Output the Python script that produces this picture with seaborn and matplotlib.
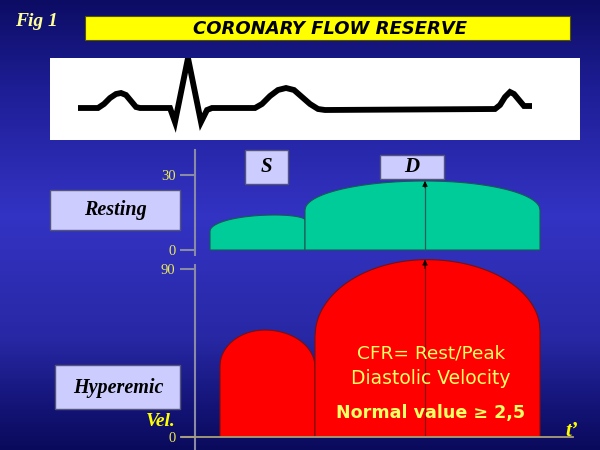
import numpy as np
import matplotlib
matplotlib.use("Agg")
import matplotlib.pyplot as plt
from matplotlib.patches import Rectangle
import seaborn as sns
import pandas as pd

# ---------------- data ----------------
# ECG trace (time units, amplitude units relative to baseline)
ecg_t = [28, 48, 54, 60, 66, 71, 76, 81, 86, 90, 120, 125, 138, 151, 157, 162,
         205, 212, 220, 228, 236, 244, 252, 260, 268, 275, 445, 450, 455, 460,
         464, 469, 474, 482]
ecg_v = [0, 0, 4, 10, 14, 15, 13, 7, 1, 0, 0, -14, 50, -14, -2, 0,
         0, 4, 12, 18, 20, 18, 11, 4, -1, -2, -1, 3, 11, 16, 14, 8, 2, 2]

# velocity waves: [S, D]  (onset, end, time of peak, left shoulder, right shoulder, peak)
rest_onset = [30, 220]
rest_end = [220, 690]
rest_tpeak = [160, 460]
rest_shoulder_l = [7.5, 16]
rest_shoulder_r = [12, 16]
rest_peak = [14, 27.6]

hyp_onset = [50, 240]
hyp_end = [240, 690]
hyp_tpeak = [140, 464]
hyp_shoulder_l = [38, 54]
hyp_shoulder_r = [37.5, 57]
hyp_peak = [57.3, 95]

peak_diastolic_time = 460
rest_ticks = [0, 30]
hyp_ticks = [0, 90]

# ---------------- helpers ----------------
W, H = 600, 450
sns.set_theme(style="white")
plt.rcParams["font.family"] = ["DejaVu Sans"]
SERIF = ["Liberation Serif", "DejaVu Serif"]

fig = plt.figure(figsize=(6, 4.5), dpi=100)


def px_axes(x0, y0, x1, y1):
    return fig.add_axes([x0 / W, 1 - y1 / H, (x1 - x0) / W, (y1 - y0) / H])


def fbox(x0, y0, x1, y1, fc, ec, lw=1.0):
    fig.add_artist(Rectangle((x0 / W, 1 - y1 / H), (x1 - x0) / W, (y1 - y0) / H,
                             transform=fig.transFigure, facecolor=fc, edgecolor=ec, lw=lw))


def ftext(x, y, s, **kw):
    fig.text(x / W, 1 - y / H, s, **kw)


def dome(t0, t1, tp, hl, hr, pk, n=300):
    t = np.linspace(t0, t1, n)
    left = hl + (pk - hl) * np.sqrt(np.clip(1 - ((tp - t) / (tp - t0)) ** 2, 0, 1))
    right = hr + (pk - hr) * np.sqrt(np.clip(1 - ((t - tp) / (t1 - tp)) ** 2, 0, 1))
    y = np.where(t <= tp, left, right)
    return np.concatenate([[t0], t, [t1]]), np.concatenate([[0], y, [0]])


# ---------------- background gradient ----------------
ax_bg = fig.add_axes([0, 0, 1, 1])
pos = np.array([0.0, 0.2, 0.48, 0.75, 0.9, 1.0])
cols = np.array([[12, 12, 100], [30, 30, 150], [51, 51, 196], [40, 40, 165],
                 [20, 20, 120], [10, 10, 92]]) / 255.0
yy = np.linspace(0, 1, 450)
grad = np.stack([np.interp(yy, pos, cols[:, i]) for i in range(3)], axis=-1)
ax_bg.imshow(grad[:, None, :], aspect="auto", extent=[0, 1, 1, 0])
ax_bg.set_xlim(0, 1)
ax_bg.set_ylim(1, 0)
ax_bg.axis("off")

# ---------------- title ----------------
fbox(85, 16, 570, 40, "#ffff00", "#555500", 0.8)
ftext(330, 28.5, "CORONARY FLOW RESERVE", ha="center", va="center", fontsize=13,
      fontweight="bold", fontstyle="italic", color="black")
ftext(15, 22, "Fig 1", ha="left", va="center", fontsize=14, fontweight="bold",
      fontstyle="italic", color="#ffff99", family=SERIF)

# ---------------- ECG ----------------
ax_e = px_axes(50, 58, 580, 140)
ax_e.set_facecolor("white")
ecg_df = pd.DataFrame({"t": ecg_t, "v": ecg_v})
sns.lineplot(data=ecg_df, x="t", y="v", ax=ax_e, color="black", lw=4.2, sort=False,
             solid_joinstyle="miter", solid_capstyle="butt")
ax_e.set_xlim(0, 530)
ax_e.set_ylim(-32, 50)
ax_e.set_xticks([])
ax_e.set_yticks([])
ax_e.set_xlabel("")
ax_e.set_ylabel("")
for s in ax_e.spines.values():
    s.set_visible(False)

AXCOL = "#8a8aa6"
TICKCOL = "#e8e85a"

# ---------------- resting panel ----------------
ax_r = px_axes(195, 150, 570, 255)
ax_r.patch.set_alpha(0)
ax_r.set_xlim(0, 750)
ax_r.set_ylim(-2, 40)
for k in ["top", "right", "bottom"]:
    ax_r.spines[k].set_visible(False)
ax_r.spines["left"].set_color(AXCOL)
ax_r.spines["left"].set_linewidth(1.5)
ax_r.set_xticks([])
ax_r.set_yticks(rest_ticks)
ax_r.tick_params(axis="y", length=11, width=1.5, color=AXCOL, labelcolor=TICKCOL,
                 labelsize=10.5, pad=3, direction="out", left=True)
for lab in ax_r.get_yticklabels():
    lab.set_family(SERIF)

rest_curves = []
for i in range(2):
    t, v = dome(rest_onset[i], rest_end[i], rest_tpeak[i], rest_shoulder_l[i],
                rest_shoulder_r[i], rest_peak[i])
    ax_r.fill(t, v, facecolor="#00cc99", edgecolor="#1a5a55", lw=0.8, clip_on=False)
    rest_curves.append((t, v))
t_d, v_d = rest_curves[1]
top_r = np.interp(peak_diastolic_time, t_d[1:-1], v_d[1:-1])
ax_r.plot([peak_diastolic_time, peak_diastolic_time], [0, top_r * 0.93],
          color="#1f5f5a", lw=0.9, clip_on=False)
ax_r.annotate("", xy=(peak_diastolic_time, top_r), xytext=(peak_diastolic_time, top_r * 0.9),
              arrowprops=dict(arrowstyle="-|>", color="black", lw=0.6, mutation_scale=8,
                              shrinkA=0, shrinkB=0), annotation_clip=False)

# ---------------- hyperemic panel ----------------
ax_h = px_axes(182, 265, 573, 450)
ax_h.patch.set_alpha(0)
ax_h.set_xlim(-26, 756)
ax_h.set_ylim(-6.96, 92.14)
for k in ["top", "right"]:
    ax_h.spines[k].set_visible(False)
ax_h.spines["left"].set_position(("data", 0))
ax_h.spines["bottom"].set_position(("data", 0))
ax_h.spines["left"].set_color(AXCOL)
ax_h.spines["left"].set_linewidth(1.5)
ax_h.spines["bottom"].set_color("#a8a078")
ax_h.spines["bottom"].set_linewidth(1.3)
ax_h.set_xticks([])
ax_h.set_yticks(hyp_ticks)
ax_h.tick_params(axis="y", length=11, width=1.5, color=AXCOL, labelcolor=TICKCOL,
                 labelsize=10.5, pad=3, direction="out", left=True)
for lab in ax_h.get_yticklabels():
    lab.set_family(SERIF)

hyp_curves = []
for i in range(2):
    t, v = dome(hyp_onset[i], hyp_end[i], hyp_tpeak[i], hyp_shoulder_l[i],
                hyp_shoulder_r[i], hyp_peak[i])
    ax_h.fill(t, v, facecolor="#ff0000", edgecolor="#7a1010", lw=0.8, clip_on=False)
    hyp_curves.append((t, v))
t_d, v_d = hyp_curves[1]
top_h = np.interp(peak_diastolic_time, t_d[1:-1], v_d[1:-1])
ax_h.plot([peak_diastolic_time, peak_diastolic_time], [0, top_h * 0.97],
          color="#8a1010", lw=0.9, clip_on=False)
ax_h.annotate("", xy=(peak_diastolic_time, top_h), xytext=(peak_diastolic_time, top_h * 0.95),
              arrowprops=dict(arrowstyle="-|>", color="black", lw=0.6, mutation_scale=8,
                              shrinkA=0, shrinkB=0), annotation_clip=False)

# ---------------- label boxes ----------------
BOXFC, BOXEC = "#ccccff", "#55557a"
fbox(245, 150, 288, 184, BOXFC, BOXEC)
ftext(266.5, 167, "S", ha="center", va="center", fontsize=15, fontweight="bold",
      fontstyle="italic", family=SERIF, color="black")
fbox(380, 155, 444, 179, BOXFC, BOXEC)
ftext(412, 167, "D", ha="center", va="center", fontsize=15, fontweight="bold",
      fontstyle="italic", family=SERIF, color="black")
fbox(50, 190, 180, 230, BOXFC, BOXEC)
ftext(115, 210, "Resting", ha="center", va="center", fontsize=14.5, fontweight="bold",
      fontstyle="italic", family=SERIF, color="black")
fbox(55, 365, 180, 409, BOXFC, BOXEC)
ftext(118, 388, "Hyperemic", ha="center", va="center", fontsize=14.5, fontweight="bold",
      fontstyle="italic", family=SERIF, color="black")

ftext(161, 421, "Vel.", ha="center", va="center", fontsize=14, fontweight="bold",
      fontstyle="italic", family=SERIF, color="#ffff00")
ftext(572, 431, "t’", ha="center", va="center", fontsize=15, fontweight="bold",
      fontstyle="italic", family=SERIF, color="#ffff00")

# ---------------- CFR text ----------------
TXT = "#ffff66"
ftext(431, 354, "CFR= Rest/Peak", ha="center", va="center", fontsize=13.3, color=TXT)
ftext(431, 379, "Diastolic Velocity", ha="center", va="center", fontsize=13.5, color=TXT)
ftext(431, 413, "Normal value ≥ 2,5", ha="center", va="center", fontsize=12.6,
      fontweight="bold", color=TXT)

fig.savefig("out.png", dpi=100)
